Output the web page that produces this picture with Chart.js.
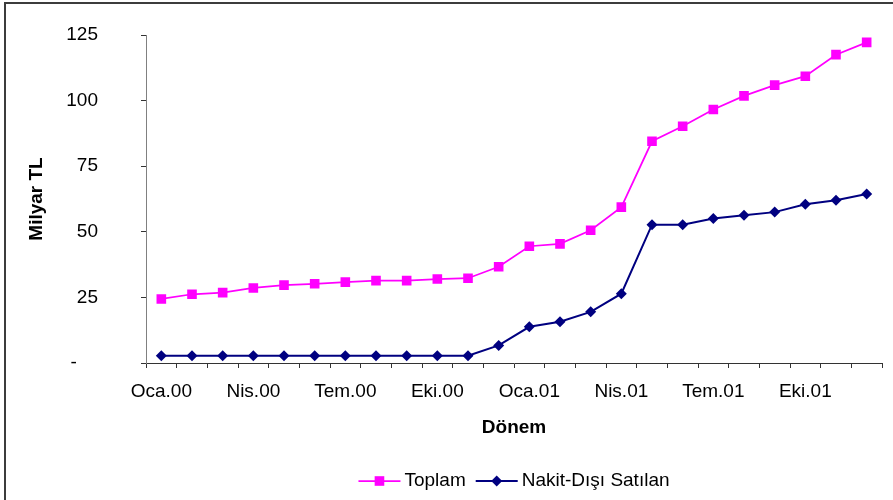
<!DOCTYPE html>
<html lang="tr">
<head>
<meta charset="utf-8">
<title>Toplam ve Nakit-Dışı Satılan</title>
<script src="https://cdn.jsdelivr.net/npm/chart.js@4/dist/chart.umd.min.js"></script>
<style>
  html, body { margin: 0; padding: 0; background: #ffffff; }
  #wrap { width: 893px; height: 500px; }
</style>
</head>
<body>
<div id="wrap"><canvas id="chart" width="893" height="500"></canvas></div>
<script>
// Monthly periods, Jan 2000 - Dec 2001
const months = [
  'Oca.00', 'Şub.00', 'Mar.00', 'Nis.00', 'May.00', 'Haz.00',
  'Tem.00', 'Ağu.00', 'Eyl.00', 'Eki.00', 'Kas.00', 'Ara.00',
  'Oca.01', 'Şub.01', 'Mar.01', 'Nis.01', 'May.01', 'Haz.01',
  'Tem.01', 'Ağu.01', 'Eyl.01', 'Eki.01', 'Kas.01', 'Ara.01'
];

// Milyar TL
const toplam = [
  24.4, 26.2, 26.8, 28.6, 29.7, 30.2, 30.8, 31.4, 31.4, 32.0, 32.3, 36.7,
  44.5, 45.4, 50.6, 59.4, 84.5, 90.2, 96.6, 101.8, 105.9, 109.3, 117.5, 122.2
];
const nakitDisi = [
  2.8, 2.8, 2.8, 2.8, 2.8, 2.8, 2.8, 2.8, 2.8, 2.8, 2.8, 6.7,
  13.8, 15.7, 19.5, 26.4, 52.7, 52.7, 55.1, 56.3, 57.5, 60.5, 62.0, 64.4
];

const yTicks = [0, 25, 50, 75, 100, 125];
const seriesNames = ['Toplam', 'Nakit-Dışı Satılan'];

const FONT = "'Liberation Sans', Arial, Helvetica, sans-serif";
const FS = 19;

// White page with the frame lines on the left and top edges
const framePlugin = {
  id: 'frame',
  beforeDraw(chart) {
    const ctx = chart.ctx;
    ctx.save();
    ctx.fillStyle = '#ffffff';
    ctx.fillRect(0, 0, chart.width, chart.height);
    ctx.strokeStyle = '#3c3c3c';
    ctx.lineWidth = 2;
    ctx.beginPath();
    ctx.moveTo(5, chart.height);
    ctx.lineTo(5, 3);
    ctx.lineTo(chart.width, 3);
    ctx.stroke();
    ctx.restore();
  }
};

// Legend below the axis title: line sample with marker, then the series name
const lineLegendPlugin = {
  id: 'lineLegend',
  afterDraw(chart) {
    const ctx = chart.ctx;
    const area = chart.chartArea;
    const sampleW = 42, textGap = 4, itemGap = 10;
    const y = 481;
    ctx.save();
    ctx.font = FS + 'px ' + FONT;
    const items = chart.data.datasets.map(ds => ({ ds, w: ctx.measureText(ds.label).width }));
    const total = items.reduce((s, it) => s + sampleW + textGap + it.w, 0) + itemGap * (items.length - 1);
    let x = (area.left + area.right) / 2 - total / 2;
    items.forEach(({ ds, w }) => {
      const cx = x + sampleW / 2;
      ctx.strokeStyle = ds.borderColor;
      ctx.lineWidth = ds.borderWidth;
      ctx.beginPath();
      ctx.moveTo(x, y);
      ctx.lineTo(x + sampleW, y);
      ctx.stroke();
      ctx.fillStyle = ds.pointBackgroundColor;
      ctx.beginPath();
      if (ds.pointStyle === 'rect') {
        const s = ds.pointRadius * Math.SQRT1_2;
        ctx.rect(cx - s, y - s, 2 * s, 2 * s);
      } else {
        const r = ds.pointRadius;
        ctx.moveTo(cx, y - r);
        ctx.lineTo(cx + r, y);
        ctx.lineTo(cx, y + r);
        ctx.lineTo(cx - r, y);
        ctx.closePath();
      }
      ctx.fill();
      ctx.fillStyle = '#000000';
      ctx.textAlign = 'left';
      ctx.textBaseline = 'middle';
      ctx.fillText(ds.label, x + sampleW + textGap, y);
      x += sampleW + textGap + w + itemGap;
    });
    ctx.restore();
  }
};

new Chart(document.getElementById('chart'), {
  type: 'line',
  data: {
    labels: months,
    datasets: [
      {
        label: seriesNames[0],
        data: toplam,
        borderColor: '#ff00ff',
        backgroundColor: '#ff00ff',
        pointBackgroundColor: '#ff00ff',
        pointBorderColor: '#ff00ff',
        pointBorderWidth: 0,
        borderWidth: 1.75,
        pointStyle: 'rect',
        pointRadius: 6.8,
        tension: 0,
        fill: false
      },
      {
        label: seriesNames[1],
        data: nakitDisi,
        borderColor: '#000080',
        backgroundColor: '#000080',
        pointBackgroundColor: '#000080',
        pointBorderColor: '#000080',
        pointBorderWidth: 0,
        borderWidth: 2,
        pointStyle: 'rectRot',
        pointRadius: 5.5,
        tension: 0,
        fill: false
      }
    ]
  },
  options: {
    responsive: false,
    animation: false,
    devicePixelRatio: 1,
    layout: { padding: { left: 0, right: 11, top: 35, bottom: 0 } },
    plugins: {
      legend: { display: false },
      tooltip: { enabled: false }
    },
    scales: {
      x: {
        type: 'category',
        offset: true,
        grid: {
          offset: true,
          drawOnChartArea: false,
          drawTicks: true,
          tickLength: 5,
          color: '#333333'
        },
        border: { display: true, color: '#333333', width: 1 },
        ticks: {
          autoSkip: false,
          maxRotation: 0,
          minRotation: 0,
          padding: 12,
          color: '#000000',
          font: { family: FONT, size: FS },
          callback(value, index) {
            return index % 3 === 0 ? months[index] : '';
          }
        },
        title: {
          display: true,
          text: 'Dönem',
          color: '#000000',
          font: { family: FONT, size: FS, weight: 'bold' },
          padding: { top: 0, bottom: 61 }
        },
        afterFit(scale) { scale.height = 137; }
      },
      y: {
        min: 0,
        max: 125,
        afterBuildTicks(scale) {
          scale.ticks = yTicks.map(v => ({ value: v }));
        },
        grid: {
          drawOnChartArea: false,
          drawTicks: true,
          tickLength: 5,
          color: '#333333'
        },
        border: { display: true, color: '#808080', width: 1 },
        ticks: {
          padding: 43,
          color: '#000000',
          font: { family: FONT, size: FS },
          callback(value) {
            return value === 0 ? '-    ' : String(value);
          }
        },
        title: {
          display: true,
          text: 'Milyar TL',
          color: '#000000',
          font: { family: FONT, size: FS, weight: 'bold' },
          padding: { top: 25, bottom: 0 }
        },
        afterFit(scale) {
          scale.width = 146;
          // the wide label gap is horizontal only; keep it out of the vertical padding
          scale.paddingTop = 0;
          scale.paddingBottom = 0;
        }
      }
    }
  },
  plugins: [framePlugin, lineLegendPlugin]
});
</script>
</body>
</html>
